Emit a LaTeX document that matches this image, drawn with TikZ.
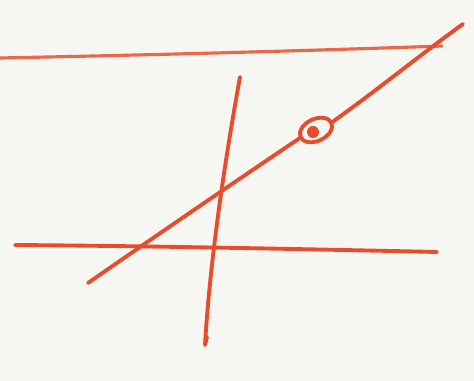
\documentclass[tikz,border=0pt]{standalone}
\usepackage{tikz}
\definecolor{marker}{RGB}{232,76,42}
\definecolor{paper}{RGB}{246,246,243}

\begin{document}
\begin{tikzpicture}[x=0.02cm, y=-0.02cm, line cap=round, line join=round]
    \tikzset{stroke/.style={draw=marker, line width=2.2pt}}
    % Paper
    \fill[paper] (0,0) rectangle (474,381);
    \useasboundingbox (0,0) rectangle (474,381);

    % Top line
    \draw[stroke, draw=marker!85!white, line width=1.8pt] (0,58) .. controls (150,55) and (300,51) .. (442,46);

    % Lower line
    \draw[stroke] (15,245) .. controls (150,246) and (300,249) .. (437,252);

    % Vertical line
    \draw[stroke] (240,77) .. controls (225,160) and (210,260) .. (205,345) -- (207,337);

    % Diagonal through the eye
    \draw[stroke] (88,283) .. controls (150,240) and (230,185) .. (300,138);
    \draw[stroke] (331,123) .. controls (380,88) and (420,55) .. (463,24);
    \coordinate (eye) at (316,130);
    \draw[stroke, rotate around={25:(eye)}] (eye) ellipse [x radius=17, y radius=11];
    \fill[marker] (313,132) circle [radius=6];
\end{tikzpicture}
\end{document}
